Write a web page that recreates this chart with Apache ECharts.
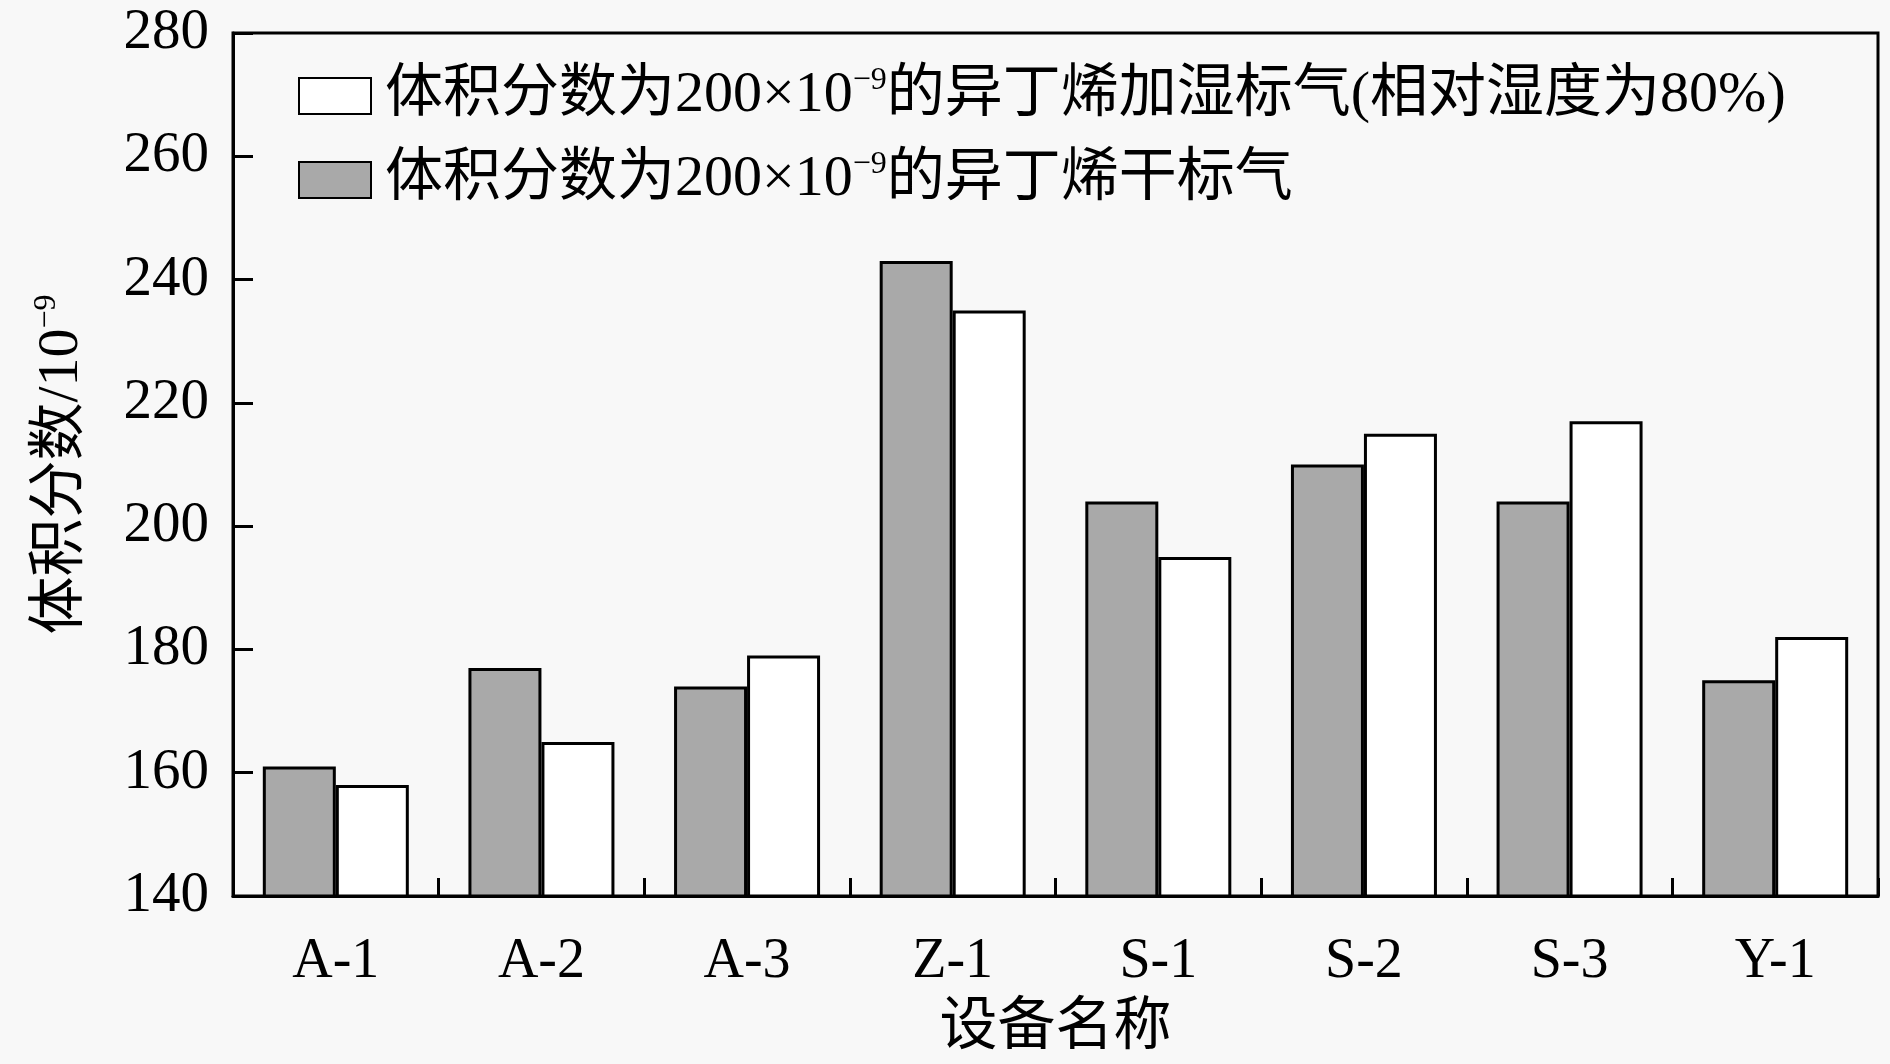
<!DOCTYPE html>
<html>
<head>
<meta charset="utf-8">
<script src="https://cdn.jsdelivr.net/npm/echarts@6/dist/echarts.min.js"></script>
<style>
html,body{margin:0;padding:0;background:#f8f8f8;}
#chart{width:1890px;height:1064px;}
</style>
</head>
<body>
<div id="chart"></div>
<script>
const categories = ['A-1','A-2','A-3','Z-1','S-1','S-2','S-3','Y-1'];
const dryValues = [161,177,174,243,204,210,204,175];
const humidValues = [158,165,179,235,195,215,217,182];
const yMin = 140, yMax = 280, yStep = 20;
const dryName = '体积分数为200×10⁻⁹的异丁烯干标气';
const humidName = '体积分数为200×10⁻⁹的异丁烯加湿标气(相对湿度为80%)';
const xAxisName = '设备名称';

const FONT = '"Liberation Serif","Times New Roman","Noto Sans CJK SC",serif';

function richify(s){
  const parts = s.split('⁻⁹');
  return '{s|}{a|' + parts[0] + '}{sup|−9}{a|' + parts[1] + '}';
}

const chart = echarts.init(document.getElementById('chart'));
chart.setOption({
  backgroundColor:'#f8f8f8',
  animation:false,
  grid:{left:233,right:12,top:33,bottom:168,show:true,borderColor:'#000',borderWidth:3,backgroundColor:'transparent'},
  legend:{
    orient:'vertical', left:293, top:60, itemWidth:72, itemHeight:36, itemGap:24,
    icon:'rect',
    data:[humidName, dryName],
    formatter:function(n){return richify(n);},
    textStyle:{
      fontFamily:FONT, fontSize:58, color:'#000',
      rich:{
        s:{width:9},
        a:{fontFamily:FONT, fontSize:58, color:'#000', lineHeight:62},
        sup:{fontFamily:FONT, fontSize:32, color:'#000', verticalAlign:'top', lineHeight:62, padding:[0,0,28,0]}
      }
    }
  },
  xAxis:{
    type:'category', data:categories,
    axisLine:{lineStyle:{color:'#000',width:3}},
    axisTick:{show:true,inside:true,length:18,interval:0,lineStyle:{color:'#000',width:3}},
    axisLabel:{fontFamily:FONT,fontSize:56,color:'#000',margin:38},
    name:xAxisName, nameLocation:'middle', nameGap:104,
    nameTextStyle:{fontFamily:FONT,fontSize:58,color:'#000'}
  },
  yAxis:{
    type:'value', min:yMin, max:yMax, interval:yStep,
    axisLine:{show:true,lineStyle:{color:'#000',width:3}},
    axisTick:{show:true,inside:true,length:20,lineStyle:{color:'#000',width:3}},
    axisLabel:{fontFamily:FONT,fontSize:57,color:'#000',margin:24},
    splitLine:{show:false},
    name:'{a|体积分数/10}{sup|−9}', nameLocation:'middle', nameGap:140, nameRotate:90,
    nameTextStyle:{fontFamily:FONT,fontSize:58,color:'#000',
      rich:{
        a:{fontFamily:FONT,fontSize:58,color:'#000',lineHeight:62},
        sup:{fontFamily:FONT,fontSize:32,color:'#000',verticalAlign:'top',lineHeight:62,padding:[0,0,28,0]}
      }}
  },
  series:[
    {name:dryName,type:'bar',data:dryValues,barWidth:73,barGap:'0%',
     itemStyle:{color:'#a9a9a9',borderColor:'#000',borderWidth:3}},
    {name:humidName,type:'bar',data:humidValues,barWidth:73,barGap:'0%',
     itemStyle:{color:'#ffffff',borderColor:'#000',borderWidth:3}}
  ]
});
</script>
</body>
</html>
